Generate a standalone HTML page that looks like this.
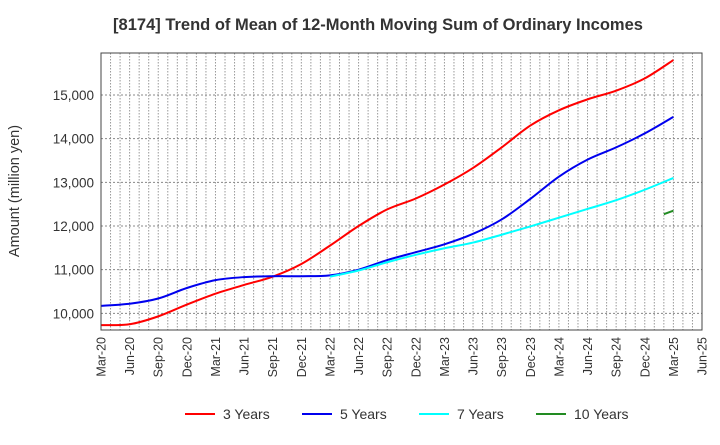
<!DOCTYPE html>
<html><head><meta charset="utf-8"><style>
body{margin:0;background:#fff;font-family:"Liberation Sans",Arial,sans-serif}
svg text{font-family:"Liberation Sans",Arial,sans-serif;fill:#333}
</style></head><body>
<svg id="c" width="720" height="440" xmlns="http://www.w3.org/2000/svg">
<text x="378" y="30" text-anchor="middle" font-size="16.5" font-weight="bold">[8174]  Trend of Mean of 12-Month Moving Sum of Ordinary Incomes</text>
<text transform="translate(19,191) rotate(-90)" text-anchor="middle" font-size="14.5">Amount (million yen)</text>
<g id="grid"></g><g id="series"></g><g id="axes"></g><g id="legend"></g>
</svg>
<script>
const xLabels=["Mar-20","Jun-20","Sep-20","Dec-20","Mar-21","Jun-21","Sep-21","Dec-21","Mar-22","Jun-22","Sep-22","Dec-22","Mar-23","Jun-23","Sep-23","Dec-23","Mar-24","Jun-24","Sep-24","Dec-24","Mar-25","Jun-25"];
const yTicks=[10000,11000,12000,13000,14000,15000];
const s3=[9730,9750,9930,10200,10450,10650,10840,11130,11550,12000,12380,12630,12950,13330,13800,14300,14650,14900,15100,15380,15800];
const s5=[10170,10220,10340,10580,10760,10830,10850,10850,10870,11000,11220,11400,11580,11820,12150,12620,13130,13520,13800,14120,14500];
const s7=[10840,10980,11170,11340,11490,11620,11800,11990,12190,12390,12590,12830,13100];
const s10=[12270,12350];
const L=101,R=702,T=53,B=330,yMin=9618,yMax=15962,nMonths=63;
const X=m=>L+m*(R-L)/nMonths;
const Y=v=>B-(v-yMin)*(B-T)/(yMax-yMin);
const NS="http://www.w3.org/2000/svg";
function mk(tag,attrs,parent,txt){const e=document.createElementNS(NS,tag);for(const k in attrs)e.setAttribute(k,attrs[k]);if(txt!==undefined)e.textContent=txt;parent.appendChild(e);return e;}
const grid=document.getElementById('grid'),axes=document.getElementById('axes'),ser=document.getElementById('series'),leg=document.getElementById('legend');
for(let m=1;m<nMonths;m++){const g=mk('line',{x1:X(m),x2:X(m),y1:T,y2:B,stroke:'#999','stroke-dasharray':'1.5,1.5','stroke-width':1},grid);

}
yTicks.forEach(v=>{const g=mk('line',{x1:L,x2:R,y1:Y(v),y2:Y(v),stroke:'#888','stroke-dasharray':'2,2'},grid);


const t=mk('text',{x:L-7,y:Y(v)+5,'text-anchor':'end','font-size':13.5},axes,v.toLocaleString('en-US'));

});
xLabels.forEach((lb,i)=>{const x=X(i*3);const t=mk('text',{transform:`translate(${x+4.5},${B+7}) rotate(-90)`,'text-anchor':'end','font-size':12.5},axes,lb);

});
const fr=mk('rect',{x:L,y:T,width:R-L,height:B-T,fill:'none',stroke:'#444','stroke-width':1},axes);


function path(pts){let d=`M${pts[0][0]},${pts[0][1]}`;for(let i=0;i<pts.length-1;i++){const p0=pts[i-1]||pts[i],p1=pts[i],p2=pts[i+1],p3=pts[i+2]||p2;
d+=` C${p1[0]+(p2[0]-p0[0])/6},${p1[1]+(p2[1]-p0[1])/6} ${p2[0]-(p3[0]-p1[0])/6},${p2[1]-(p3[1]-p1[1])/6} ${p2[0]},${p2[1]}`;}return d;}
const defs=[["3 Years",s3,0,3,"#ff0000"],["5 Years",s5,0,3,"#0000ee"],["7 Years",s7,24,3,"#00ffff"],["10 Years",s10,59,1,"#228b22"]];
defs.forEach(([name,vals,start,step,col],k)=>{
const pts=vals.map((v,i)=>[X(start+i*step),Y(v)]);
const p=mk('path',{d:path(pts),fill:'none',stroke:col,'stroke-width':2},ser);


const lx=185+k*117;
const g=mk('g',{},leg);


mk('line',{x1:lx,x2:lx+30,y1:414,y2:414,stroke:col,'stroke-width':2},g);
mk('text',{x:lx+38,y:419,'font-size':14},g,name);
});
</script>
</body></html>
